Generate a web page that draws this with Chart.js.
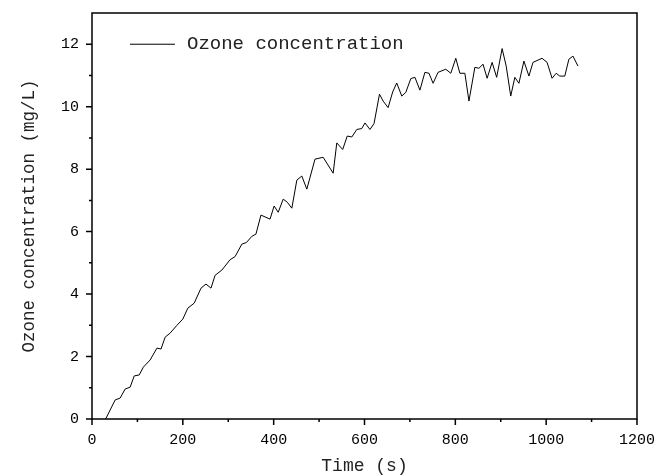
<!DOCTYPE html>
<html>
<head>
<meta charset="utf-8">
<script src="https://cdn.jsdelivr.net/npm/chart.js@4.4.1/dist/chart.umd.min.js"></script>
<style>
html,body{margin:0;padding:0;background:#fff;}
#wrap{width:668px;height:476px;position:relative;}
</style>
</head>
<body>
<div id="wrap"><canvas id="c" width="668" height="476"></canvas></div>
<script>
const seriesLabel = "Ozone concentration";
const timeS = [30,51,62,73,84,93,104,113,128,143,152,161,172,187,200,211,225,240,251,262,271,286,304,315,330,340,352,361,372,392,401,410,421,430,440,451,462,473,491,509,531,539,552,562,572,583,594,601,612,621,633,641,652,662,671,682,691,702,711,722,733,742,751,762,779,790,801,810,821,830,843,852,861,870,881,891,903,912,922,931,940,951,962,971,991,1002,1013,1022,1030,1041,1050,1059,1070];
const ozone = [0,0.61,0.67,0.96,1.02,1.38,1.41,1.66,1.89,2.27,2.24,2.62,2.75,3.0,3.2,3.55,3.71,4.19,4.32,4.19,4.6,4.77,5.1,5.2,5.6,5.65,5.85,5.92,6.53,6.4,6.82,6.62,7.04,6.94,6.75,7.65,7.78,7.36,8.32,8.38,7.87,8.84,8.63,9.06,9.03,9.27,9.3,9.48,9.27,9.46,10.4,10.18,9.97,10.47,10.76,10.34,10.46,10.9,10.94,10.53,11.1,11.07,10.75,11.1,11.2,11.07,11.55,11.07,11.07,10.18,11.26,11.23,11.36,10.91,11.42,10.94,11.86,11.3,10.34,10.94,10.75,11.46,10.98,11.42,11.55,11.42,10.91,11.07,10.98,10.98,11.52,11.62,11.3];
const xMajorTicks = [0,200,400,600,800,1000,1200];
const xMinorTicks = [100,300,500,700,900,1100];
const yMajorTicks = [0,2,4,6,8,10,12];
const yMinorTicks = [1,3,5,7,9,11];
const xTitle = "Time (s)";
const yTitle = "Ozone concentration (mg/L)";

const FONT = "'Liberation Mono', 'DejaVu Sans Mono', monospace";

const points = timeS.map((t,i)=>({x:t,y:ozone[i]}));

const frameTicks = {
  id:'frameTicks',
  afterDraw(chart){
    const {ctx, chartArea:a, scales:{x,y}} = chart;
    ctx.save();
    ctx.strokeStyle = '#000';
    ctx.lineWidth = 1.5;
    ctx.strokeRect(a.left, a.top, a.right-a.left, a.bottom-a.top);
    ctx.beginPath();
    xMajorTicks.forEach(v=>{const px=x.getPixelForValue(v); ctx.moveTo(px,a.bottom); ctx.lineTo(px,a.bottom+6);});
    xMinorTicks.forEach(v=>{const px=x.getPixelForValue(v); ctx.moveTo(px,a.bottom); ctx.lineTo(px,a.bottom+3);});
    yMajorTicks.forEach(v=>{const py=y.getPixelForValue(v); ctx.moveTo(a.left,py); ctx.lineTo(a.left-6,py);});
    yMinorTicks.forEach(v=>{const py=y.getPixelForValue(v); ctx.moveTo(a.left,py); ctx.lineTo(a.left-3,py);});
    ctx.stroke();
    // legend inside the plot
    const ly = y.getPixelForValue(12);
    ctx.lineWidth = 1;
    ctx.beginPath();
    ctx.moveTo(a.left+38, ly); ctx.lineTo(a.left+83, ly);
    ctx.stroke();
    ctx.fillStyle = '#222';
    ctx.font = "19px " + FONT;
    ctx.textBaseline = 'middle';
    ctx.textAlign = 'left';
    ctx.fillText(seriesLabel, a.left+95, ly);
    ctx.restore();
  }
};

new Chart(document.getElementById('c'), {
  type:'line',
  data:{datasets:[{label:seriesLabel,data:points,borderColor:'#000',borderWidth:1,pointRadius:0,tension:0,fill:false}]},
  options:{
    responsive:false,
    animation:false,
    layout:{padding:{top:13,right:31,left:0,bottom:0}},
    plugins:{legend:{display:false},tooltip:{enabled:false}},
    scales:{
      x:{
        type:'linear',min:0,max:1200,
        afterBuildTicks(s){ s.ticks = xMajorTicks.map(v=>({value:v})); },
        afterFit(s){ s.height = 57; s.paddingLeft = 0; s.paddingRight = 0; },
        grid:{display:false,drawTicks:false},
        border:{display:false},
        ticks:{color:'#000',padding:12,maxRotation:0,font:{family:FONT,size:15},callback:(v)=>String(v)},
        title:{display:true,text:xTitle,color:'#222',font:{family:FONT,size:18},padding:{top:0,bottom:-1}}
      },
      y:{
        type:'linear',min:0,max:13,
        afterBuildTicks(s){ s.ticks = yMajorTicks.map(v=>({value:v})); },
        afterFit(s){ s.width = 92; s.paddingTop = 0; s.paddingBottom = 0; },
        grid:{display:false,drawTicks:false},
        border:{display:false},
        ticks:{color:'#000',padding:13,font:{family:FONT,size:15},callback:(v)=>String(v)},
        title:{display:true,text:yTitle,color:'#222',font:{family:FONT,size:17.5},padding:{top:19,bottom:0}}
      }
    }
  },
  plugins:[frameTicks]
});
</script>
</body>
</html>
